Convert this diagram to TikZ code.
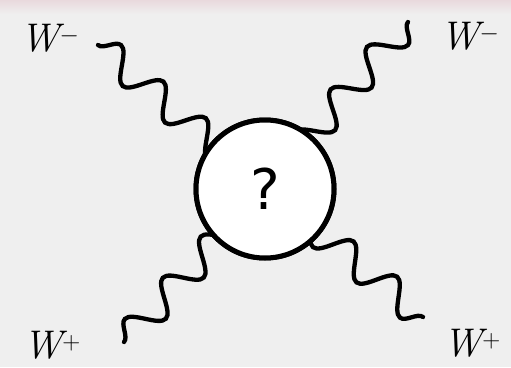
\documentclass[tikz,border=0pt]{standalone}
\usepackage{fontspec}
\newfontfamily\qfont{DejaVu Sans}
\usetikzlibrary{decorations.pathmorphing}
\definecolor{bg}{HTML}{EFEFEF}
\definecolor{pinkband}{HTML}{E9D9DD}
\tikzset{
  wave/.style={line width=4.3pt, line cap=round, decorate,
    decoration={snake, segment length=56pt, amplitude=15pt, pre length=0pt, post length=0pt}},
  blob/.style={circle, draw, fill=white, line width=5pt, minimum size=138pt, inner sep=0pt},
  lbl/.style={font=\fontsize{40}{40}\selectfont\itshape}
}
\begin{document}
\begin{tikzpicture}[x=1pt,y=-1pt]
\useasboundingbox (0,0) rectangle (511,367);
\fill[bg] (0,0) rectangle (511,367);
\shade[top color=pinkband, bottom color=bg] (0,0) rectangle (511,14);
\coordinate (tl) at (98,45);
\coordinate (tr) at (408,22);
\coordinate (bl) at (124,342);
\coordinate (br) at (423,317);
\node[blob] (c) at (265,189) {};
\draw[wave] (tl) -- (c.center);
\draw[wave] (tr) -- (c.center);
\draw[wave] (bl) -- (c.center);
\draw[wave] (br) -- (c.center);
\node[blob] (c2) at (c) {\qfont\fontsize{56}{56}\selectfont ?};
\node[lbl] (l1) at (50,38) {W$^{-}$};
\node[lbl] (l2) at (470,36) {W$^{-}$};
\node[lbl] (l3) at (52,345) {W$^{+}$};
\node[lbl] (l4) at (472,343) {W$^{+}$};
\end{tikzpicture}
\end{document}
